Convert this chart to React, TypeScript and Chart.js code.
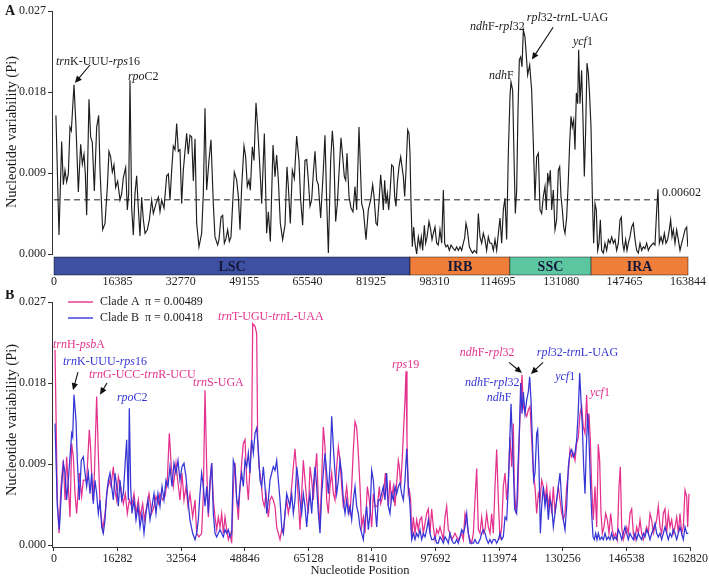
import { useEffect, useRef } from 'react';
import { Chart, registerables } from 'chart.js';

Chart.register(...registerables);

const FONT = '"Liberation Serif", "Times New Roman", Times, serif';
const W = 709;
const H_A = 290;
const H_B = 288;

// ---- Panel A: all accessions, sliding-window midpoints (kb) and Pi ----
const WINDOW_KB_ALL = [
  0.50, 1.29, 1.98, 2.41, 2.84, 3.27, 3.70, 4.13, 4.48, 5.17,
  5.69, 6.29, 6.89, 7.32, 7.75, 8.10, 8.44, 9.04, 9.47, 9.90,
  10.42, 11.03, 11.54, 11.89, 12.58, 13.18, 13.78, 14.21, 14.64, 15.07,
  15.50, 15.94, 16.45, 17.06, 17.49, 17.92, 18.52, 18.95, 19.30, 19.64,
  20.07, 20.50, 20.93, 21.36, 21.79, 22.22, 22.65, 23.09, 23.52, 24.12,
  24.64, 25.24, 25.67, 26.36, 26.96, 27.39, 27.82, 28.43, 29.12, 29.55,
  29.98, 30.41, 30.84, 31.27, 31.70, 32.13, 32.56, 32.99, 33.42, 33.85,
  34.28, 34.71, 35.14, 35.58, 36.01, 36.44, 36.87, 37.47, 38.16, 38.59,
  39.02, 39.45, 40.05, 40.57, 41.17, 41.60, 42.29, 42.64, 43.16, 43.59,
  44.02, 44.45, 44.88, 45.31, 45.74, 46.09, 46.60, 47.21, 47.64, 48.07,
  48.50, 49.10, 49.53, 49.96, 50.39, 50.74, 51.25, 51.69, 52.20, 52.63,
  53.24, 53.67, 54.36, 54.96, 55.39, 55.91, 56.60, 57.11, 57.54, 57.98,
  58.49, 59.09, 59.70, 60.21, 60.56, 61.07, 61.59, 62.11, 62.71, 63.31,
  63.74, 64.26, 64.86, 65.30, 65.73, 66.16, 66.59, 67.02, 67.45, 67.88,
  68.31, 68.91, 69.60, 70.03, 70.46, 70.90, 71.50, 71.93, 72.27, 72.79,
  73.22, 73.65, 74.17, 74.60, 75.03, 75.38, 75.72, 76.24, 76.75, 77.27,
  77.79, 78.22, 78.82, 79.51, 79.94, 80.63, 81.23, 81.84, 82.35, 82.70,
  83.21, 83.56, 83.99, 84.42, 84.77, 85.11, 85.45, 85.80, 86.14, 86.49,
  86.83, 87.26, 87.69, 88.04, 88.38, 88.73, 89.16, 89.59, 89.93, 90.28,
  90.62, 90.97, 91.40, 91.74, 92.00, 92.26, 92.60, 92.95, 93.29, 93.72,
  94.15, 94.59, 94.93, 95.27, 95.71, 96.05, 96.40, 96.91, 97.34, 97.69,
  98.03, 98.46, 98.89, 99.32, 99.75, 100.19, 100.62, 100.96, 101.30, 101.73,
  102.17, 102.60, 103.20, 103.63, 104.06, 104.49, 104.92, 105.35, 105.78, 106.13,
  106.47, 106.82, 107.33, 107.76, 108.20, 108.63, 109.23, 109.66, 110.09, 110.52,
  110.95, 111.38, 111.81, 112.24, 112.67, 113.11, 113.54, 113.97, 114.40, 114.83,
  115.26, 115.69, 116.12, 116.55, 116.98, 117.41, 117.84, 118.10, 118.53, 118.88,
  119.22, 119.57, 119.91, 120.26, 120.60, 120.94, 121.29, 121.72, 122.41, 122.93,
  123.44, 123.87, 124.30, 124.73, 125.17, 125.60, 126.03, 126.46, 126.89, 127.23,
  127.58, 127.92, 128.27, 128.61, 129.04, 129.47, 129.90, 130.33, 130.68, 131.02,
  131.37, 131.71, 132.06, 132.49, 132.92, 133.26, 133.61, 133.95, 134.30, 134.64,
  134.99, 135.33, 135.59, 135.93, 136.36, 136.71, 137.05, 137.40, 137.74, 138.09,
  138.43, 138.78, 139.12, 139.46, 139.81, 140.15, 140.50, 140.84, 141.19, 141.53,
  141.96, 142.39, 142.82, 143.26, 143.69, 144.12, 144.55, 144.98, 145.41, 145.84,
  146.27, 146.62, 146.96, 147.30, 147.73, 148.08, 148.42, 148.85, 149.28, 149.72,
  150.15, 150.58, 151.01, 151.44, 151.87, 152.30, 152.73, 153.16, 153.59, 154.02,
  154.45, 154.88, 155.31, 155.75, 156.09, 156.44, 156.87, 157.30, 157.73, 158.16,
  158.59, 159.02, 159.36, 159.71, 160.05, 160.48, 160.91, 161.34, 161.78, 162.21,
  162.64, 163.07, 163.50, 163.80,
];
const PI_ALL = [
  .0154, .0021, .0125, .0077, .0093, .0080, .0089, .0141, .0137, .0188,
  .0141, .0069, .0122, .0100, .0111, .0089, .0043, .0172, .0130, .0124,
  .0070, .0141, .0154, .0093, .0027, .0034, .0074, .0114, .0108, .0091,
  .0099, .0074, .0081, .0060, .0067, .0085, .0096, .0049, .0067, .0193,
  .0051, .0021, .0067, .0087, .0051, .0020, .0063, .0038, .0023, .0027,
  .0038, .0060, .0045, .0056, .0063, .0047, .0060, .0051, .0087, .0089,
  .0060, .0093, .0120, .0116, .0145, .0114, .0116, .0056, .0093, .0114,
  .0134, .0111, .0132, .0130, .0081, .0128, .0034, .0008, .0023, .0067,
  .0162, .0071, .0104, .0127, .0056, .0019, .0010, .0016, .0041, .0043,
  .0012, .0017, .0027, .0014, .0019, .0049, .0091, .0082, .0064, .0027,
  .0075, .0120, .0108, .0075, .0082, .0071, .0119, .0104, .0168, .0141,
  .0093, .0056, .0134, .0023, .0047, .0014, .0121, .0086, .0110, .0082,
  .0034, .0016, .0032, .0097, .0075, .0034, .0093, .0084, .0131, .0104,
  .0060, .0032, .0104, .0105, .0082, .0053, .0060, .0090, .0114, .0082,
  .0077, .0040, .0093, .0132, .0060, .0001, .0104, .0137, .0117, .0036,
  .0056, .0090, .0129, .0108, .0086, .0082, .0112, .0064, .0051, .0047,
  .0075, .0049, .0141, .0056, .0049, .0016, .0049, .0060, .0077, .0064,
  .0034, .0032, .0058, .0088, .0071, .0049, .0082, .0056, .0067, .0049,
  .0067, .0099, .0097, .0064, .0053, .0079, .0097, .0108, .0097, .0086,
  .0064, .0093, .0138, .0134, .0112, .0056, .0008, .0030, .0012, .0000,
  .0019, .0008, .0019, .0004, .0032, .0012, .0019, .0036, .0027, .0016,
  .0023, .0030, .0012, .0010, .0027, .0012, .0071, .0012, .0008, .0010,
  .0004, .0010, .0006, .0004, .0008, .0004, .0008, .0004, .0012, .0018,
  .0034, .0027, .0008, .0004, .0001, .0004, .0001, .0045, .0019, .0012,
  .0023, .0016, .0004, .0019, .0012, .0012, .0004, .0016, .0004, .0023,
  .0040, .0012, .0049, .0062, .0016, .0112, .0175, .0191, .0182, .0108,
  .0045, .0071, .0160, .0216, .0219, .0208, .0249, .0241, .0199, .0210,
  .0182, .0123, .0060, .0108, .0112, .0049, .0045, .0064, .0075, .0049,
  .0090, .0079, .0093, .0049, .0071, .0027, .0038, .0093, .0097, .0064,
  .0049, .0030, .0023, .0041, .0082, .0123, .0153, .0141, .0149, .0116,
  .0179, .0167, .0227, .0167, .0204, .0149, .0086, .0138, .0212, .0201,
  .0175, .0141, .0064, .0012, .0056, .0049, .0004, .0012, .0038, .0004,
  .0001, .0012, .0004, .0016, .0012, .0019, .0012, .0016, .0004, .0012,
  .0038, .0041, .0012, .0004, .0016, .0004, .0012, .0019, .0030, .0034,
  .0016, .0004, .0001, .0012, .0004, .0008, .0006, .0012, .0004, .0008,
  .0010, .0012, .0010, .0049, .0072, .0012, .0019, .0012, .0023, .0012,
  .0016, .0027, .0038, .0019, .0027, .0012, .0027, .0016, .0004, .0012,
  .0019, .0027, .0030, .0008,
];

// ---- Panel B: Clade A ----
const WINDOW_KB_CLADE_A = [
  0.26, 0.85, 1.28, 1.79, 2.39, 2.82, 3.24, 3.67, 4.10, 4.52,
  4.95, 5.38, 5.80, 6.48, 7.08, 7.51, 8.36, 9.04, 9.39, 9.90,
  10.32, 10.92, 11.35, 11.78, 12.46, 13.06, 13.65, 14.16, 14.59, 15.19,
  15.62, 16.04, 16.47, 17.07, 17.75, 18.26, 18.77, 19.28, 19.88, 20.48,
  20.99, 21.59, 22.02, 22.70, 23.13, 23.72, 24.32, 25.00, 25.60, 26.11,
  26.71, 27.13, 27.82, 28.41, 29.01, 29.52, 30.04, 30.55, 31.23, 31.66,
  32.25, 32.77, 33.28, 33.79, 34.30, 34.81, 35.50, 36.10, 36.52, 37.12,
  37.80, 38.23, 38.66, 39.09, 39.51, 39.94, 40.37, 40.79, 41.22, 41.65,
  42.07, 42.50, 42.93, 43.35, 43.78, 44.21, 44.63, 45.06, 45.49, 45.91,
  46.34, 46.77, 47.19, 47.62, 48.05, 48.47, 48.90, 49.33, 49.75, 50.18,
  50.61, 50.86, 51.46, 51.89, 52.14, 52.48, 53.00, 53.42, 53.85, 54.28,
  54.87, 55.30, 55.73, 56.15, 56.58, 57.01, 57.43, 57.86, 58.29, 58.71,
  59.14, 59.57, 59.99, 60.42, 60.85, 61.27, 61.70, 62.13, 62.55, 62.98,
  63.41, 63.83, 64.26, 64.69, 65.11, 65.54, 65.97, 66.39, 66.82, 67.25,
  67.67, 68.10, 68.53, 68.95, 69.38, 69.81, 70.23, 70.66, 71.09, 71.51,
  71.94, 72.37, 72.79, 73.22, 73.65, 74.07, 74.50, 74.93, 75.35, 75.78,
  76.21, 76.63, 77.06, 77.49, 77.91, 78.34, 78.77, 79.19, 79.62, 80.22,
  80.73, 81.33, 81.75, 82.18, 82.78, 83.29, 83.63, 84.14, 84.48, 84.83,
  85.17, 85.59, 86.02, 86.36, 86.87, 87.30, 87.73, 88.15, 88.41, 88.75,
  89.18, 89.52, 89.86, 90.12, 90.37, 90.71, 90.97, 91.31, 91.57, 91.99,
  92.42, 92.85, 93.27, 93.70, 94.13, 94.55, 94.98, 95.41, 95.83, 96.26,
  96.69, 97.11, 97.54, 97.97, 98.39, 98.82, 99.25, 99.67, 100.10, 100.53,
  100.95, 101.38, 101.81, 102.23, 102.66, 103.09, 103.51, 103.94, 104.37, 104.79,
  105.22, 105.65, 106.07, 106.50, 106.93, 107.35, 107.78, 108.21, 108.63, 109.06,
  109.49, 109.91, 110.34, 110.77, 111.19, 111.62, 112.05, 112.47, 112.90, 113.33,
  113.75, 114.18, 114.61, 115.03, 115.46, 115.89, 116.31, 116.74, 117.17, 117.59,
  117.85, 118.27, 118.70, 119.13, 119.47, 119.81, 120.15, 120.58, 121.01, 121.43,
  121.86, 122.29, 122.71, 123.14, 123.57, 123.99, 124.42, 124.85, 125.27, 125.70,
  126.13, 126.55, 126.98, 127.41, 127.83, 128.26, 128.69, 129.11, 129.54, 129.97,
  130.39, 130.82, 131.25, 131.67, 132.10, 132.53, 132.95, 133.38, 133.81, 134.23,
  134.66, 135.09, 135.51, 135.94, 136.37, 136.62, 136.96, 137.30, 137.65, 138.07,
  138.50, 138.93, 139.35, 139.69, 140.04, 140.38, 140.80, 141.23, 141.66, 142.08,
  142.51, 142.94, 143.36, 143.79, 144.22, 144.64, 144.98, 145.33, 145.75, 146.18,
  146.61, 147.03, 147.46, 147.89, 148.31, 148.74, 149.17, 149.59, 150.02, 150.44,
  150.87, 151.30, 151.72, 152.15, 152.58, 153.01, 153.43, 153.86, 154.29, 154.71,
  155.14, 155.57, 155.99, 156.42, 156.85, 157.27, 157.70, 158.13, 158.55, 158.98,
  159.41, 159.83, 160.26, 160.69, 161.11, 161.54, 161.97, 162.22, 162.56,
];
const PI_CLADE_A = [
  .0217, .0050, .0013, .0065, .0094, .0050, .0098, .0065, .0031, .0113,
  .0098, .0057, .0035, .0080, .0054, .0072, .0072, .0128, .0106, .0050,
  .0076, .0165, .0102, .0043, .0017, .0035, .0061, .0072, .0065, .0087,
  .0061, .0050, .0076, .0065, .0046, .0057, .0035, .0050, .0043, .0057,
  .0035, .0050, .0031, .0046, .0028, .0043, .0057, .0035, .0043, .0054,
  .0046, .0057, .0050, .0054, .0072, .0124, .0087, .0065, .0091, .0072,
  .0050, .0080, .0050, .0065, .0043, .0057, .0031, .0050, .0013, .0009,
  .0013, .0057, .0172, .0087, .0031, .0065, .0091, .0050, .0031, .0017,
  .0031, .0020, .0035, .0013, .0031, .0017, .0006, .0013, .0002, .0065,
  .0091, .0050, .0028, .0065, .0091, .0113, .0117, .0072, .0050, .0087,
  .0120, .0246, .0243, .0235, .0117, .0087, .0072, .0050, .0043, .0057,
  .0031, .0050, .0054, .0050, .0043, .0020, .0013, .0006, .0017, .0013,
  .0035, .0050, .0035, .0046, .0065, .0087, .0107, .0080, .0050, .0017,
  .0057, .0094, .0072, .0050, .0035, .0087, .0072, .0050, .0080, .0102,
  .0050, .0020, .0072, .0131, .0109, .0050, .0035, .0065, .0080, .0057,
  .0050, .0087, .0109, .0094, .0065, .0043, .0050, .0065, .0043, .0035,
  .0065, .0106, .0137, .0131, .0102, .0065, .0020, .0031, .0013, .0065,
  .0050, .0020, .0057, .0043, .0043, .0065, .0046, .0054, .0061, .0080,
  .0065, .0043, .0072, .0050, .0065, .0043, .0069, .0094, .0087, .0065,
  .0098, .0131, .0161, .0193, .0117, .0057, .0061, .0050, .0006, .0031,
  .0013, .0028, .0017, .0028, .0031, .0013, .0024, .0035, .0040, .0013,
  .0040, .0020, .0006, .0017, .0013, .0020, .0013, .0006, .0031, .0043,
  .0017, .0013, .0006, .0009, .0013, .0009, .0006, .0009, .0013, .0006,
  .0035, .0028, .0013, .0006, .0002, .0013, .0050, .0085, .0017, .0013,
  .0031, .0013, .0017, .0035, .0020, .0013, .0035, .0013, .0065, .0106,
  .0050, .0006, .0020, .0065, .0080, .0050, .0072, .0120, .0087, .0135,
  .0065, .0035, .0050, .0124, .0161, .0189, .0154, .0147, .0143, .0150,
  .0154, .0117, .0080, .0065, .0035, .0057, .0050, .0072, .0065, .0050,
  .0065, .0043, .0057, .0035, .0065, .0035, .0050, .0065, .0050, .0035,
  .0028, .0035, .0065, .0080, .0106, .0098, .0102, .0094, .0113, .0120,
  .0146, .0154, .0131, .0124, .0167, .0131, .0146, .0117, .0065, .0028,
  .0065, .0020, .0112, .0094, .0035, .0013, .0020, .0035, .0028, .0013,
  .0035, .0017, .0009, .0013, .0006, .0065, .0087, .0020, .0006, .0013,
  .0020, .0013, .0035, .0040, .0013, .0006, .0020, .0013, .0028, .0013,
  .0006, .0013, .0020, .0013, .0035, .0028, .0013, .0020, .0028, .0043,
  .0020, .0013, .0035, .0040, .0013, .0035, .0020, .0028, .0013, .0020,
  .0031, .0013, .0035, .0013, .0020, .0061, .0054, .0020, .0057,
];

// ---- Panel B: Clade B ----
const WINDOW_KB_CLADE_B = [
  0.26, 0.85, 1.37, 1.96, 2.39, 2.82, 3.24, 3.67, 4.10, 4.52,
  4.78, 5.12, 5.63, 5.97, 6.48, 6.99, 7.51, 7.94, 8.36, 8.79,
  9.22, 9.64, 10.07, 10.50, 10.92, 11.35, 11.78, 12.20, 12.63, 13.06,
  13.48, 13.91, 14.34, 14.76, 15.19, 15.62, 16.04, 16.47, 16.90, 17.32,
  17.75, 18.17, 18.60, 19.03, 19.28, 19.63, 19.97, 20.48, 20.99, 21.50,
  22.02, 22.53, 23.04, 23.55, 24.06, 24.58, 25.09, 25.60, 26.11, 26.62,
  27.13, 27.65, 28.16, 28.67, 29.18, 29.69, 30.21, 30.72, 31.23, 31.74,
  32.25, 32.77, 33.28, 33.79, 34.30, 34.81, 35.50, 36.10, 36.52, 36.95,
  37.37, 37.80, 38.23, 38.66, 39.09, 39.51, 39.94, 40.37, 40.79, 41.22,
  41.65, 42.07, 42.50, 42.93, 43.35, 43.78, 44.21, 44.63, 45.06, 45.49,
  45.91, 46.34, 46.77, 47.19, 47.62, 48.05, 48.47, 48.90, 49.33, 49.75,
  50.18, 50.61, 51.03, 51.46, 51.89, 52.31, 52.74, 53.17, 53.59, 54.02,
  54.45, 54.87, 55.30, 55.73, 56.15, 56.58, 57.01, 57.43, 57.86, 58.29,
  58.71, 59.14, 59.57, 59.99, 60.42, 60.85, 61.27, 61.70, 62.13, 62.55,
  62.98, 63.41, 63.83, 64.26, 64.69, 65.11, 65.54, 65.97, 66.39, 66.82,
  67.25, 67.67, 68.10, 68.53, 68.95, 69.38, 69.81, 70.23, 70.66, 71.09,
  71.51, 71.94, 72.37, 72.79, 73.22, 73.65, 74.07, 74.50, 74.93, 75.35,
  75.78, 76.21, 76.63, 77.06, 77.49, 77.91, 78.34, 78.77, 79.19, 79.62,
  80.05, 80.47, 80.90, 81.33, 81.75, 82.18, 82.61, 83.03, 83.46, 83.88,
  84.31, 84.74, 85.17, 85.59, 86.02, 86.45, 86.87, 87.30, 87.73, 88.15,
  88.58, 89.01, 89.43, 89.86, 90.29, 90.71, 91.14, 91.57, 91.99, 92.42,
  92.85, 93.27, 93.70, 94.13, 94.55, 94.98, 95.41, 95.83, 96.26, 96.69,
  97.11, 97.54, 97.97, 98.39, 98.82, 99.25, 99.67, 100.10, 100.53, 100.95,
  101.38, 101.81, 102.23, 102.66, 103.09, 103.51, 103.94, 104.37, 104.79, 105.22,
  105.65, 106.07, 106.50, 106.93, 107.35, 107.78, 108.21, 108.63, 109.06, 109.49,
  109.91, 110.34, 110.77, 111.19, 111.62, 112.05, 112.47, 112.90, 113.33, 113.75,
  114.18, 114.61, 115.03, 115.46, 115.89, 116.31, 116.74, 117.00, 117.34, 117.59,
  117.93, 118.44, 118.78, 119.13, 119.47, 119.81, 120.15, 120.58, 121.01, 121.43,
  121.77, 122.12, 122.46, 122.80, 123.14, 123.57, 123.82, 124.16, 124.51, 124.85,
  125.27, 125.70, 126.13, 126.55, 126.98, 127.41, 127.83, 128.26, 128.69, 129.11,
  129.54, 129.97, 130.39, 130.82, 131.25, 131.67, 132.10, 132.53, 132.95, 133.38,
  133.81, 134.23, 134.57, 134.91, 135.26, 135.60, 135.94, 136.28, 136.62, 136.96,
  137.30, 137.65, 137.99, 138.33, 138.67, 139.01, 139.35, 139.78, 140.21, 140.63,
  141.06, 141.49, 141.91, 142.34, 142.77, 143.19, 143.62, 144.05, 144.47, 144.90,
  145.33, 145.75, 146.18, 146.61, 147.03, 147.46, 147.89, 148.31, 148.74, 149.17,
  149.59, 150.02, 150.44, 150.87, 151.30, 151.72, 152.15, 152.58, 153.01, 153.43,
  153.86, 154.29, 154.71, 155.14, 155.57, 155.99, 156.42, 156.85, 157.27, 157.70,
  158.13, 158.55, 158.98, 159.41, 159.83, 160.26, 160.69, 161.11, 161.54, 161.97, 162.39,
];
const PI_CLADE_B = [
  .0135, .0043, .0017, .0065, .0091, .0080, .0050, .0072, .0098, .0124,
  .0120, .0167, .0139, .0094, .0050, .0094, .0098, .0080, .0065, .0080,
  .0057, .0080, .0046, .0072, .0057, .0035, .0050, .0020, .0013, .0028,
  .0057, .0072, .0080, .0065, .0050, .0080, .0065, .0043, .0072, .0050,
  .0057, .0087, .0117, .0050, .0152, .0065, .0035, .0050, .0028, .0043,
  .0020, .0035, .0013, .0035, .0050, .0028, .0043, .0057, .0035, .0057,
  .0043, .0065, .0050, .0072, .0065, .0087, .0065, .0091, .0080, .0094,
  .0072, .0087, .0091, .0076, .0050, .0028, .0013, .0006, .0013, .0028,
  .0057, .0080, .0065, .0043, .0065, .0035, .0072, .0091, .0035, .0013,
  .0009, .0013, .0017, .0013, .0009, .0017, .0013, .0017, .0009, .0013,
  .0094, .0087, .0050, .0043, .0065, .0080, .0065, .0094, .0087, .0102,
  .0080, .0117, .0102, .0124, .0130, .0106, .0072, .0065, .0087, .0065,
  .0035, .0050, .0072, .0080, .0087, .0083, .0094, .0072, .0050, .0020,
  .0013, .0035, .0057, .0050, .0043, .0057, .0035, .0050, .0087, .0072,
  .0050, .0035, .0057, .0043, .0020, .0043, .0057, .0035, .0065, .0087,
  .0065, .0035, .0013, .0057, .0080, .0102, .0080, .0057, .0087, .0143,
  .0109, .0080, .0057, .0072, .0094, .0080, .0050, .0035, .0050, .0035,
  .0043, .0028, .0050, .0065, .0043, .0035, .0020, .0013, .0006, .0028,
  .0043, .0017, .0035, .0083, .0072, .0043, .0020, .0050, .0050, .0057,
  .0065, .0050, .0080, .0043, .0035, .0057, .0050, .0065, .0057, .0065,
  .0069, .0057, .0050, .0072, .0107, .0065, .0043, .0006, .0013, .0006,
  .0013, .0009, .0017, .0006, .0013, .0009, .0017, .0028, .0013, .0006,
  .0006, .0009, .0002, .0002, .0009, .0006, .0002, .0009, .0006, .0002,
  .0013, .0006, .0002, .0002, .0006, .0002, .0009, .0017, .0013, .0020,
  .0035, .0013, .0002, .0002, .0002, .0006, .0002, .0002, .0006, .0013,
  .0017, .0013, .0006, .0002, .0006, .0002, .0006, .0006, .0002, .0006,
  .0013, .0006, .0009, .0031, .0028, .0065, .0124, .0157, .0117, .0087,
  .0040, .0035, .0087, .0124, .0180, .0146, .0170, .0146, .0161, .0170,
  .0187, .0161, .0117, .0072, .0080, .0124, .0128, .0087, .0013, .0043,
  .0065, .0043, .0057, .0028, .0050, .0043, .0020, .0035, .0050, .0065,
  .0080, .0050, .0028, .0017, .0043, .0087, .0102, .0106, .0098, .0102,
  .0117, .0150, .0191, .0161, .0131, .0087, .0057, .0109, .0146, .0117,
  .0072, .0035, .0009, .0006, .0013, .0006, .0013, .0006, .0009, .0006,
  .0013, .0006, .0009, .0006, .0013, .0006, .0009, .0006, .0017, .0013,
  .0006, .0013, .0020, .0013, .0006, .0013, .0009, .0006, .0013, .0006,
  .0013, .0009, .0006, .0013, .0009, .0017, .0013, .0006, .0013, .0017,
  .0024, .0013, .0009, .0013, .0006, .0013, .0020, .0013, .0006, .0013,
  .0009, .0017, .0013, .0006, .0013, .0020, .0013, .0006, .0020, .0013, .0013,
];

// ---- axes, regions, summary statistics ----
const X_TICKS_A = [0, 16385, 32770, 49155, 65540, 81925, 98310, 114695, 131080, 147465, 163844];
const X_TICKS_B = [0, 16282, 32564, 48846, 65128, 81410, 97692, 113974, 130256, 146538, 162820];
const Y_TICKS = [0, 0.009, 0.018, 0.027];

const PI_MEAN_ALL = 0.00602;
const PI_MEAN_CLADE_A = 0.00489;
const PI_MEAN_CLADE_B = 0.00418;

const REGION_NAMES = ['LSC', 'IRB', 'SSC', 'IRA'];
const REGION_EDGES = [0, 92000, 117800, 138800, 163844];
const REGION_FILLS = ['#3E50A2', '#EE7E39', '#5CC6A1', '#EE7E39'];

const COLOR_ALL = '#1d1d1d';
const COLOR_CLADE_A = '#E4318D';
const COLOR_CLADE_B = '#3535D6';
const INK = '#1a1a1a';

type Label = { text: string; kb: number; pi: number; color: string };
type Arrow = { kb1: number; pi1: number; kb2: number; pi2: number };

// '*' toggles italic (gene names)
const LABELS_A: Label[] = [
  { text: '*trn*K-UUU-*rps*16', kb: 0.52, pi: 0.0213, color: INK },
  { text: '*rpo*C2', kb: 19.1, pi: 0.0197, color: INK },
  { text: '*ndh*F-*rpl*32', kb: 107.5, pi: 0.0252, color: INK },
  { text: '*rpl*32-*trn*L-UAG', kb: 122.2, pi: 0.0262, color: INK },
  { text: '*ndh*F', kb: 112.4, pi: 0.0198, color: INK },
  { text: '*ycf*1', kb: 134.1, pi: 0.0236, color: INK },
];
const ARROWS_A: Arrow[] = [
  { kb1: 9.3, pi1: 0.0210, kb2: 5.4, pi2: 0.0190 },
  { kb1: 129.0, pi1: 0.0252, kb2: 123.5, pi2: 0.0216 },
];

const LABELS_B: Label[] = [
  { text: '*trn*H-*psb*A', kb: -0.25, pi: 0.0222, color: COLOR_CLADE_A },
  { text: '*trn*K-UUU-*rps*16', kb: 2.3, pi: 0.0203, color: COLOR_CLADE_B },
  { text: '*trn*G-UCC-*trn*R-UCU', kb: 8.96, pi: 0.0189, color: COLOR_CLADE_A },
  { text: '*rpo*C2', kb: 16.1, pi: 0.0163, color: COLOR_CLADE_B },
  { text: '*trn*S-UGA', kb: 35.6, pi: 0.0180, color: COLOR_CLADE_A },
  { text: '*trn*T-UGU-*trn*L-UAA', kb: 42.0, pi: 0.0253, color: COLOR_CLADE_A },
  { text: '*rps*19', kb: 86.5, pi: 0.0200, color: COLOR_CLADE_A },
  { text: '*ndh*F-*rpl*32', kb: 103.9, pi: 0.0214, color: COLOR_CLADE_A },
  { text: '*rpl*32-*trn*L-UAG', kb: 123.6, pi: 0.0214, color: COLOR_CLADE_B },
  { text: '*ndh*F-*rpl*32', kb: 105.2, pi: 0.0180, color: COLOR_CLADE_B },
  { text: '*ndh*F', kb: 110.8, pi: 0.0163, color: COLOR_CLADE_B },
  { text: '*ycf*1', kb: 128.3, pi: 0.0187, color: COLOR_CLADE_B },
  { text: '*ycf*1', kb: 137.2, pi: 0.0169, color: COLOR_CLADE_A },
];
const ARROWS_B: Arrow[] = [
  { kb1: 6.14, pi1: 0.0192, kb2: 4.86, pi2: 0.0172 },
  { kb1: 13.57, pi1: 0.0180, kb2: 11.78, pi2: 0.0167 },
  { kb1: 116.5, pi1: 0.0203, kb2: 119.8, pi2: 0.0191 },
  { kb1: 125.2, pi1: 0.0203, kb2: 122.1, pi2: 0.0190 },
];

const toPoints = (kb: number[], pi: number[]) => kb.map((k, i) => ({ x: k * 1000, y: pi[i] }));

function drawRich(ctx: CanvasRenderingContext2D, text: string, x: number, y: number, size: number, color: string) {
  const parts = text.split('*');
  let cx = x;
  ctx.fillStyle = color;
  ctx.textAlign = 'left';
  ctx.textBaseline = 'middle';
  parts.forEach((p, i) => {
    if (!p) return;
    ctx.font = `${i % 2 ? 'italic ' : ''}${size}px ${FONT}`;
    ctx.fillText(p, cx, y);
    cx += ctx.measureText(p).width;
  });
}

function drawArrow(ctx: CanvasRenderingContext2D, x1: number, y1: number, x2: number, y2: number) {
  const ang = Math.atan2(y2 - y1, x2 - x1);
  const head = 7;
  const half = 3.2;
  const c = Math.cos(ang);
  const s = Math.sin(ang);
  ctx.strokeStyle = '#111';
  ctx.fillStyle = '#111';
  ctx.lineWidth = 1.1;
  ctx.beginPath();
  ctx.moveTo(x1, y1);
  ctx.lineTo(x2 - c * head * 0.8, y2 - s * head * 0.8);
  ctx.stroke();
  ctx.beginPath();
  ctx.moveTo(x2, y2);
  ctx.lineTo(x2 - head * c + half * s, y2 - head * s - half * c);
  ctx.lineTo(x2 - head * c - half * s, y2 - head * s + half * c);
  ctx.closePath();
  ctx.fill();
}

function drawYTitle(ctx: CanvasRenderingContext2D, cx: number, cy: number) {
  ctx.save();
  ctx.translate(cx, cy);
  ctx.rotate(-Math.PI / 2);
  ctx.font = `14.5px ${FONT}`;
  ctx.fillStyle = INK;
  ctx.textAlign = 'center';
  ctx.textBaseline = 'middle';
  ctx.fillText('Nucleotide variability (Pi)', 0, 0);
  ctx.restore();
}

function drawAnnotations(chart: any, labels: Label[], arrows: Arrow[]) {
  const { ctx, scales } = chart;
  const { x, y } = scales;
  labels.forEach((l) => drawRich(ctx, l.text, x.getPixelForValue(l.kb * 1000), y.getPixelForValue(l.pi), 12, l.color));
  arrows.forEach((a) =>
    drawArrow(
      ctx,
      x.getPixelForValue(a.kb1 * 1000), y.getPixelForValue(a.pi1),
      x.getPixelForValue(a.kb2 * 1000), y.getPixelForValue(a.pi2),
    ),
  );
}

const tickFont = { family: FONT, size: 12 };

function configA(): any {
  return {
    type: 'line',
    data: {
      datasets: [
        {
          data: toPoints(WINDOW_KB_ALL, PI_ALL),
          borderColor: COLOR_ALL,
          borderWidth: 1.15,
          pointRadius: 0,
          tension: 0,
          fill: false,
        },
      ],
    },
    options: {
      animation: false,
      responsive: false,
      devicePixelRatio: 1,
      layout: { padding: { left: 0, right: 21, top: 11, bottom: 0 } },
      plugins: { legend: { display: false }, tooltip: { enabled: false } },
      scales: {
        x: {
          type: 'linear',
          min: -517,
          max: 163844,
          afterBuildTicks: (s: any) => { s.ticks = X_TICKS_A.map((v) => ({ value: v })); },
          afterFit: (s: any) => { s.height = 36; },
          // invisible tick marks make room for the region bar under the plot
          grid: { display: true, drawOnChartArea: false, drawTicks: true, tickLength: 21, color: 'rgba(0,0,0,0)' },
          border: { display: false },
          ticks: { padding: 0, font: tickFont, color: '#222', maxRotation: 0, autoSkip: false, callback: (v: any) => String(v) },
        },
        y: {
          min: 0,
          max: 0.027,
          afterBuildTicks: (s: any) => { s.ticks = Y_TICKS.map((v) => ({ value: v })); },
          afterFit: (s: any) => { s.width = 52; },
          grid: { drawOnChartArea: false, drawTicks: true, tickLength: 4, color: '#333' },
          border: { display: true, color: '#333', width: 1 },
          ticks: { padding: 2, font: tickFont, color: '#222', callback: (v: any) => Number(v).toFixed(3) },
        },
      },
    },
    plugins: [
      {
        id: 'panelA',
        afterDatasetsDraw(chart: any) {
          const { ctx, scales: { x, y } } = chart;
          const yMean = y.getPixelForValue(PI_MEAN_ALL);
          const labelX = x.getPixelForValue(157120);
          ctx.save();
          ctx.strokeStyle = '#222';
          ctx.lineWidth = 1;
          ctx.setLineDash([6, 4]);
          ctx.beginPath();
          ctx.moveTo(x.getPixelForValue(0), yMean);
          ctx.lineTo(labelX - 3, yMean);
          ctx.stroke();
          ctx.setLineDash([]);
          drawRich(ctx, PI_MEAN_ALL.toFixed(5), labelX, yMean - 7, 12, INK);
          ctx.restore();
        },
        afterDraw(chart: any) {
          const { ctx, scales: { x } } = chart;
          ctx.save();
          const top = 257;
          const h = 18;
          for (let i = 0; i < REGION_NAMES.length; i++) {
            const x0 = x.getPixelForValue(REGION_EDGES[i]);
            const x1 = x.getPixelForValue(REGION_EDGES[i + 1]);
            ctx.fillStyle = REGION_FILLS[i];
            ctx.fillRect(x0, top, x1 - x0, h);
            ctx.strokeStyle = 'rgba(0,0,0,0.55)';
            ctx.lineWidth = 0.8;
            ctx.strokeRect(x0, top, x1 - x0, h);
            ctx.fillStyle = '#16183a';
            ctx.font = `bold 14px ${FONT}`;
            ctx.textAlign = 'center';
            ctx.textBaseline = 'middle';
            ctx.fillText(REGION_NAMES[i], (x0 + x1) / 2, top + h / 2 + 1);
          }
          drawAnnotations(chart, LABELS_A, ARROWS_A);
          drawYTitle(ctx, 12, 132);
          ctx.font = `bold 14px ${FONT}`;
          ctx.fillStyle = INK;
          ctx.textAlign = 'left';
          ctx.textBaseline = 'middle';
          ctx.fillText('A', 5, 11);
          ctx.restore();
        },
      },
    ],
  };
}

function configB(): any {
  return {
    type: 'line',
    data: {
      datasets: [
        {
          label: 'Clade B',
          data: toPoints(WINDOW_KB_CLADE_B, PI_CLADE_B),
          borderColor: COLOR_CLADE_B,
          borderWidth: 1.25,
          pointRadius: 0,
          tension: 0,
          fill: false,
        },
        {
          label: 'Clade A',
          data: toPoints(WINDOW_KB_CLADE_A, PI_CLADE_A),
          borderColor: COLOR_CLADE_A,
          borderWidth: 1.25,
          pointRadius: 0,
          tension: 0,
          fill: false,
        },
      ],
    },
    options: {
      animation: false,
      responsive: false,
      devicePixelRatio: 1,
      layout: { padding: { left: 0, right: 19, top: 12, bottom: 0 } },
      plugins: { legend: { display: false }, tooltip: { enabled: false } },
      scales: {
        x: {
          type: 'linear',
          min: -512,
          max: 162820,
          afterBuildTicks: (s: any) => { s.ticks = X_TICKS_B.map((v) => ({ value: v })); },
          afterFit: (s: any) => { s.height = 31; },
          grid: { drawOnChartArea: false, drawTicks: true, tickLength: 4, color: '#333' },
          border: { display: true, color: '#333', width: 1 },
          ticks: { padding: 1, font: tickFont, color: '#222', maxRotation: 0, autoSkip: false, callback: (v: any) => String(v) },
        },
        y: {
          min: -0.000222,
          max: 0.027,
          afterBuildTicks: (s: any) => { s.ticks = Y_TICKS.map((v) => ({ value: v })); },
          afterFit: (s: any) => { s.width = 52; },
          grid: { drawOnChartArea: false, drawTicks: true, tickLength: 4, color: '#333' },
          border: { display: true, color: '#333', width: 1 },
          ticks: { padding: 2, font: tickFont, color: '#222', callback: (v: any) => Number(v).toFixed(3) },
        },
      },
    },
    plugins: [
      {
        id: 'panelB',
        afterDraw(chart: any) {
          const { ctx, chartArea } = chart;
          ctx.save();
          drawAnnotations(chart, LABELS_B, ARROWS_B);
          // legend
          const legend = [
            { name: 'Clade A', mean: PI_MEAN_CLADE_A, color: COLOR_CLADE_A },
            { name: 'Clade B', mean: PI_MEAN_CLADE_B, color: COLOR_CLADE_B },
          ];
          legend.forEach((item, i) => {
            const ly = chartArea.top + i * 16;
            ctx.strokeStyle = item.color;
            ctx.lineWidth = 1.4;
            ctx.beginPath();
            ctx.moveTo(chartArea.left + 16, ly);
            ctx.lineTo(chartArea.left + 41, ly);
            ctx.stroke();
            drawRich(ctx, item.name, chartArea.left + 48, ly, 12, INK);
            drawRich(ctx, `π = ${item.mean.toFixed(5)}`, chartArea.left + 93, ly, 12, INK);
          });
          drawYTitle(ctx, 12, 130);
          ctx.fillStyle = INK;
          ctx.textAlign = 'center';
          ctx.textBaseline = 'middle';
          ctx.font = `12.5px ${FONT}`;
          ctx.fillText('Nucleotide Position', 360, 281);
          ctx.font = `bold 14px ${FONT}`;
          ctx.textAlign = 'left';
          ctx.fillText('B', 5, 5);
          ctx.restore();
        },
      },
    ],
  };
}

export default function App() {
  const refA = useRef<HTMLCanvasElement>(null);
  const refB = useRef<HTMLCanvasElement>(null);

  useEffect(() => {
    const a = new Chart(refA.current as HTMLCanvasElement, configA());
    const b = new Chart(refB.current as HTMLCanvasElement, configB());
    return () => {
      a.destroy();
      b.destroy();
    };
  }, []);

  return (
    <div style={{ position: 'absolute', left: 0, top: 0, width: W, height: 578, background: '#fff' }}>
      <canvas ref={refA} width={W} height={H_A} style={{ position: 'absolute', left: 0, top: 0, width: W, height: H_A }} />
      <canvas ref={refB} width={W} height={H_B} style={{ position: 'absolute', left: 0, top: H_A, width: W, height: H_B }} />
    </div>
  );
}
